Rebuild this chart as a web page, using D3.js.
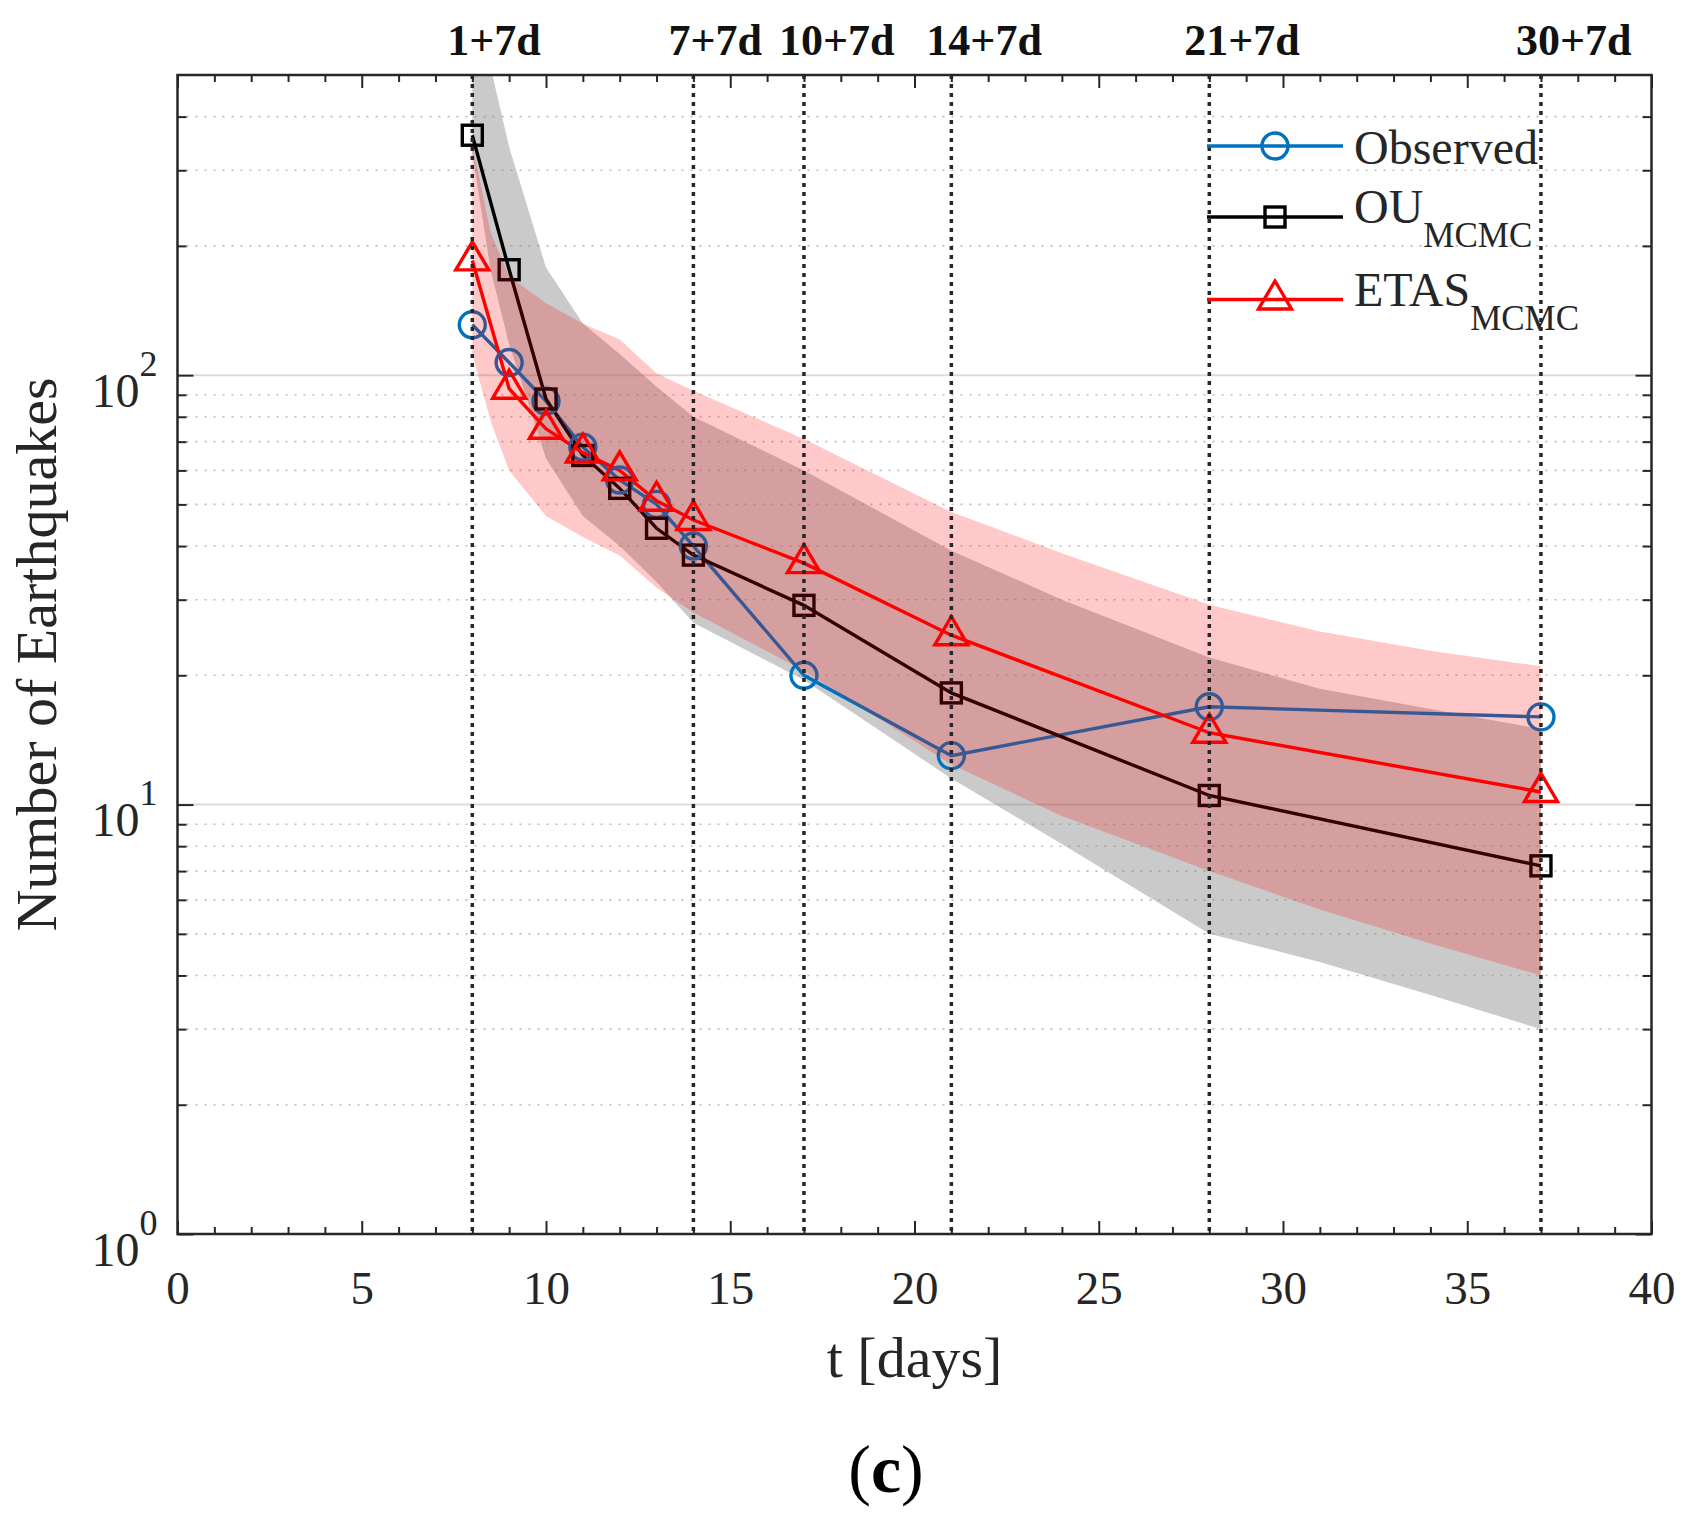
<!DOCTYPE html>
<html>
<head>
<meta charset="utf-8">
<script src="https://cdn.jsdelivr.net/npm/d3@7"></script>
<style>
  body { margin: 0; background: #fff; }
  svg text { font-family: "Liberation Serif", "Times New Roman", serif; fill: #262626; }
</style>
</head>
<body>
<div id="chart"></div>
<script>
// forecast days (window end) and counts
const days = [8, 9, 10, 11, 12, 13, 14, 17, 21, 28, 37];
const observed = [131, 107, 87, 68, 57, 50, 40, 20, 13.0, 16.9, 16.0];
const ouMcmc = [362, 176, 88, 65, 54.5, 44, 38.1, 29.1, 18.2, 10.5, 7.2];
const etasMcmc = [185, 93, 75, 66, 60, 51, 46, 36.5, 24.8, 14.7, 10.7];

// confidence bands
const bandDays = [8, 8.5, 9, 10, 11, 12, 13, 14, 17, 21, 24, 28, 31, 34, 37];
const ouUpper = [1500, 520, 340, 178, 132, 112, 94, 80, 60, 39, 30, 22, 18.6, 16.7, 15];
const ouLower = [330, 175, 118, 64, 47, 40, 33, 26.5, 19.5, 11.5, 8.1, 5.0, 4.3, 3.6, 3.0];
const etasUpper = [345, 215, 170, 147, 132, 121, 101, 92, 71, 48, 38.5, 29.2, 25.3, 22.8, 21];
const etasLower = [112, 78, 60, 47, 42, 38, 32, 28, 20.5, 12.4, 9.4, 7.0, 5.7, 4.75, 4.0];

// forecast windows marked on top
const windowDays = [8, 14, 17, 21, 28, 37];
const windowLabels = ['1+7d', '7+7d', '10+7d', '14+7d', '21+7d', '30+7d'];

const xTicks = [0, 5, 10, 15, 20, 25, 30, 35, 40];
const yDecades = [1, 10, 100];
const yExponents = ['0', '1', '2'];

const width = 1687;
const height = 1514;
const plot = { left: 177.5, right: 1651.5, top: 75, bottom: 1234 };

const svg = d3.select('#chart').append('svg')
    .attr('width', width)
    .attr('height', height);

const x = d3.scaleLinear().domain([0, 40]).range([plot.left, plot.right]);
const y = d3.scaleLog().domain([1, 500]).range([plot.bottom, plot.top]);

const minorX = d3.range(1, 40).filter(v => v % 5 !== 0);
const minorY = [];
yDecades.forEach(d => { for (let k = 2; k <= 9; k++) if (d * k < 500) minorY.push(d * k); });

svg.append('clipPath').attr('id', 'clip')
  .append('rect')
    .attr('x', plot.left).attr('y', plot.top)
    .attr('width', plot.right - plot.left).attr('height', plot.bottom - plot.top);

// grid lines (log y only)
svg.selectAll('.minor-grid')
    .data(minorY)
    .enter().append('line')
    .attr('x1', plot.left).attr('x2', plot.right)
    .attr('y1', d => y(d)).attr('y2', d => y(d))
    .attr('stroke', '#bdbdbd')
    .attr('stroke-width', 1.6)
    .attr('stroke-dasharray', '2,7');

svg.selectAll('.major-grid')
    .data(yDecades.slice(1))
    .enter().append('line')
    .attr('x1', plot.left).attr('x2', plot.right)
    .attr('y1', d => y(d)).attr('y2', d => y(d))
    .attr('stroke', '#dcdcdc')
    .attr('stroke-width', 2);

const bandOf = (hi, lo) => bandDays.map((t, i) => ({ t: t, hi: hi[i], lo: lo[i] }));
const area = d3.area()
    .x(d => x(d.t))
    .y0(d => y(d.lo))
    .y1(d => y(d.hi));

const plotLayer = svg.append('g').attr('clip-path', 'url(#clip)');

// OU band below everything
plotLayer.append('path')
    .attr('d', area(bandOf(ouUpper, ouLower)))
    .attr('fill', '#808080')
    .attr('fill-opacity', 0.42);

// series
const series = [
    { name: 'Observed', values: observed, color: '#0072bd', marker: 'circle' },
    { name: 'OU', values: ouMcmc, color: '#000000', marker: 'square' },
    { name: 'ETAS', values: etasMcmc, color: '#ff0000', marker: 'triangle' }
];

const line = d3.line()
    .x(d => x(d[0]))
    .y(d => y(d[1]));

function drawMarker(g, type, color) {
    if (type === 'circle') {
        g.append('circle').attr('r', 13)
            .attr('fill', 'none').attr('stroke', color).attr('stroke-width', 3.4);
    } else if (type === 'square') {
        g.append('rect').attr('x', -10).attr('y', -10).attr('width', 20).attr('height', 20)
            .attr('fill', 'none').attr('stroke', color).attr('stroke-width', 3.4);
    } else {
        g.append('path').attr('d', 'M0,-18.5L16.5,9.5L-16.5,9.5Z')
            .attr('fill', 'none').attr('stroke', color).attr('stroke-width', 3.4)
            .attr('stroke-linejoin', 'miter');
    }
}

series.forEach(s => {
    const pts = days.map((t, i) => [t, s.values[i]]);
    plotLayer.append('path')
        .attr('d', line(pts))
        .attr('fill', 'none')
        .attr('stroke', s.color)
        .attr('stroke-width', 3.4);
    pts.forEach(p => {
        const g = svg.append('g').attr('transform', `translate(${x(p[0])},${y(p[1])})`);
        drawMarker(g, s.marker, s.color);
    });
});

// ETAS band on top (tints the lines underneath)
svg.append('path')
    .attr('clip-path', 'url(#clip)')
    .attr('d', area(bandOf(etasUpper, etasLower)))
    .attr('fill', '#ff0000')
    .attr('fill-opacity', 0.21);

// forecast window lines
svg.selectAll('.window')
    .data(windowDays)
    .enter().append('line')
    .attr('x1', d => x(d)).attr('x2', d => x(d))
    .attr('y1', plot.top).attr('y2', plot.bottom)
    .attr('stroke', '#262626')
    .attr('stroke-width', 3.5)
    .attr('stroke-dasharray', '4,5');

svg.selectAll('.window-label')
    .data(windowDays)
    .enter().append('text')
    .attr('x', d => x(d) - 25)
    .attr('y', 55)
    .attr('font-size', 44)
    .attr('font-weight', 'bold')
    .style('fill', '#111')
    .text((d, i) => windowLabels[i]);

// axes with inward ticks
function styleAxis(g) {
    g.select('.domain').remove();
    g.selectAll('.tick line').attr('stroke', '#262626').attr('stroke-width', 2);
}

svg.append('g')
    .attr('transform', `translate(0,${plot.bottom})`)
    .call(d3.axisBottom(x).tickValues(xTicks).tickSizeInner(-13).tickSizeOuter(0).tickPadding(37))
    .call(styleAxis)
    .call(g => g.selectAll('text')
        .attr('font-size', 47)
        .style('font-family', '"Liberation Serif", serif')
        .style('fill', '#262626'));

svg.append('g')
    .attr('transform', `translate(0,${plot.bottom})`)
    .call(d3.axisBottom(x).tickValues(minorX).tickSize(-7).tickFormat(''))
    .call(styleAxis);

svg.append('g')
    .attr('transform', `translate(0,${plot.top})`)
    .call(d3.axisTop(x).tickValues(xTicks).tickSize(-13).tickFormat(''))
    .call(styleAxis);

svg.append('g')
    .attr('transform', `translate(0,${plot.top})`)
    .call(d3.axisTop(x).tickValues(minorX).tickSize(-7).tickFormat(''))
    .call(styleAxis);

const yAxis = svg.append('g')
    .attr('transform', `translate(${plot.left},0)`)
    .call(d3.axisLeft(y).tickValues(yDecades).tickSize(-16).tickFormat(''))
    .call(styleAxis);

yAxis.selectAll('.tick text').remove();
yAxis.selectAll('.tick').each(function(d, i) {
    const t = d3.select(this).append('text')
        .attr('x', -20)
        .attr('y', 31)
        .attr('text-anchor', 'end')
        .attr('font-size', 48);
    t.append('tspan').text('10');
    t.append('tspan')
        .attr('font-size', 36)
        .attr('dy', -31)
        .text(yExponents[i]);
});

svg.append('g')
    .attr('transform', `translate(${plot.left},0)`)
    .call(d3.axisLeft(y).tickValues(minorY).tickSize(-9).tickFormat(''))
    .call(styleAxis);

svg.append('g')
    .attr('transform', `translate(${plot.right},0)`)
    .call(d3.axisRight(y).tickValues(yDecades).tickSize(-16).tickFormat(''))
    .call(styleAxis);

svg.append('g')
    .attr('transform', `translate(${plot.right},0)`)
    .call(d3.axisRight(y).tickValues(minorY).tickSize(-9).tickFormat(''))
    .call(styleAxis);

svg.append('rect')
    .attr('x', plot.left).attr('y', plot.top)
    .attr('width', plot.right - plot.left).attr('height', plot.bottom - plot.top)
    .attr('fill', 'none')
    .attr('stroke', '#262626')
    .attr('stroke-width', 2.5);

// axis titles
svg.append('text')
    .attr('transform', `translate(56,${(plot.top + plot.bottom) / 2}) rotate(-90)`)
    .attr('text-anchor', 'middle')
    .attr('font-size', 58)
    .text('Number of Earthquakes');

svg.append('text')
    .attr('x', (plot.left + plot.right) / 2)
    .attr('y', 1377)
    .attr('text-anchor', 'middle')
    .attr('font-size', 58)
    .text('t [days]');

const caption = svg.append('text')
    .attr('x', 886)
    .attr('y', 1492)
    .attr('text-anchor', 'middle')
    .attr('font-size', 68)
    .style('fill', '#000');
caption.append('tspan').text('(');
caption.append('tspan').attr('font-weight', 'bold').text('c');
caption.append('tspan').text(')');

// legend (no box)
const legendRows = [146, 217, 299.5];
series.forEach((s, i) => {
    const ly = legendRows[i];
    svg.append('line')
        .attr('x1', 1207).attr('x2', 1343)
        .attr('y1', ly).attr('y2', ly)
        .attr('stroke', s.color)
        .attr('stroke-width', 3.4);
    const g = svg.append('g').attr('transform', `translate(1275,${ly})`);
    drawMarker(g, s.marker, s.color);
    const t = svg.append('text')
        .attr('x', 1354)
        .attr('y', s.name === 'Observed' ? ly + 18 : ly + 6)
        .attr('font-size', 48);
    t.append('tspan').text(s.name);
    if (s.name !== 'Observed') {
        t.append('tspan').attr('font-size', 35).attr('dy', 24).text('MCMC');
    }
});
</script>
</body>
</html>
